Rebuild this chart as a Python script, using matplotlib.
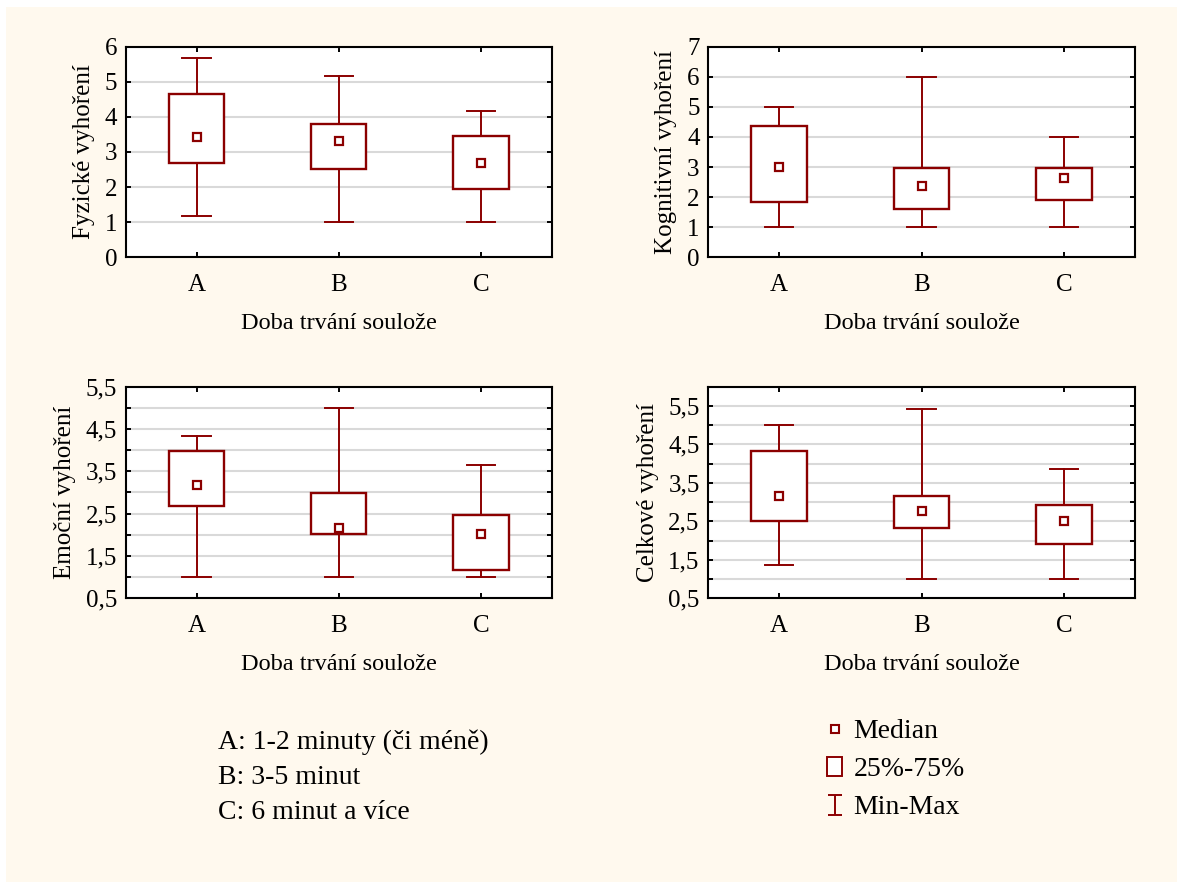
import matplotlib
matplotlib.use('Agg')
import matplotlib.pyplot as plt
from matplotlib.patches import Rectangle, Patch
from matplotlib.lines import Line2D
from matplotlib.path import Path
from matplotlib.ticker import FuncFormatter, MultipleLocator

plt.rcParams['font.family'] = ['Liberation Serif', 'DejaVu Serif']

groups = ['A', 'B', 'C']
xlabel = 'Doba trvání soulože'

# panel: label, min, q1, median, q3, max
fyz_label = 'Fyzické vyhoření'
fyz_min = [1.17, 1.0, 1.0]
fyz_q1 = [2.70, 2.52, 1.94]
fyz_med = [3.44, 3.32, 2.68]
fyz_q3 = [4.64, 3.81, 3.47]
fyz_max = [5.67, 5.16, 4.17]

kog_label = 'Kognitivní vyhoření'
kog_min = [1.0, 1.0, 1.0]
kog_q1 = [1.83, 1.61, 1.90]
kog_med = [3.0, 2.38, 2.62]
kog_q3 = [4.36, 2.97, 2.97]
kog_max = [5.0, 6.0, 4.0]

emo_label = 'Emoční vyhoření'
emo_min = [1.0, 1.0, 1.0]
emo_q1 = [2.67, 2.01, 1.17]
emo_med = [3.17, 2.15, 2.02]
emo_q3 = [3.98, 2.99, 2.47]
emo_max = [4.33, 5.0, 3.65]

cel_label = 'Celkové vyhoření'
cel_min = [1.36, 1.0, 1.0]
cel_q1 = [2.52, 2.32, 1.91]
cel_med = [3.15, 2.76, 2.52]
cel_q3 = [4.34, 3.17, 2.93]
cel_max = [5.0, 5.43, 3.86]

group_notes = ['A: 1-2 minuty (či méně)', 'B: 3-5 minut', 'C: 6 minut a více']
legend_labels = ['Median', '25%-75%', 'Min-Max']

red = '#8B0000'
cream = '#FFF9EE'
grid_c = '#D9D9D9'

fig = plt.figure(figsize=(11.77, 8.82), dpi=100, facecolor='white')
fig.patches.append(Rectangle((6 / 1177, 0), 1, 1 - 7 / 882, transform=fig.transFigure,
                             facecolor=cream, edgecolor='none', zorder=-10))

W, H = 1177, 882


def panel(rect_px, label, mins, q1, med, q3, maxs, ylim, major, minor, comma):
    l, t, r, b = rect_px
    ax = fig.add_axes([l / W, 1 - b / H, (r - l) / W, (b - t) / H])
    stats = []
    for i in range(len(groups)):
        stats.append({'med': med[i], 'mean': med[i], 'q1': q1[i], 'q3': q3[i],
                      'whislo': mins[i], 'whishi': maxs[i], 'fliers': []})
    ax.bxp(stats, positions=[1, 2, 3], widths=0.39, capwidths=0.2,
           patch_artist=True, showmeans=True,
           boxprops=dict(facecolor='white', edgecolor=red, linewidth=1.7),
           whiskerprops=dict(color=red, linewidth=1.4),
           capprops=dict(color=red, linewidth=1.4),
           medianprops=dict(linewidth=0),
           meanprops=dict(marker='s', markerfacecolor='white', markeredgecolor=red,
                          markersize=6, markeredgewidth=1.6),
           zorder=3)
    ax.set_xlim(0.5, 3.5)
    ax.set_ylim(*ylim)
    ax.set_xticks([1, 2, 3])
    ax.set_xticklabels(groups)
    ax.yaxis.set_major_locator(MultipleLocator(major))
    if minor:
        ax.yaxis.set_minor_locator(MultipleLocator(minor))
    if comma:
        ax.yaxis.set_major_formatter(FuncFormatter(lambda v, p: ('%.1f' % v).replace('.', ',')))
    ax.grid(True, axis='y', which='both', color=grid_c, linewidth=1.5, zorder=0)
    ax.set_axisbelow(True)
    ax.tick_params(which='both', direction='in', top=True, right=True,
                   length=3.5, width=1.4, labelsize=18, colors='black')
    ax.tick_params(axis='x', pad=12)
    ax.tick_params(axis='y', pad=6)
    for s in ax.spines.values():
        s.set_linewidth(1.5)
    ax.set_xlabel(xlabel, fontsize=17.5, labelpad=12)
    ax.set_ylabel(label, fontsize=18, labelpad=7)
    return ax


panel((125.5, 46.7, 552, 257.3), fyz_label, fyz_min, fyz_q1, fyz_med, fyz_q3, fyz_max,
      (0, 6), 1, None, False)
panel((708, 46.7, 1135, 257.3), kog_label, kog_min, kog_q1, kog_med, kog_q3, kog_max,
      (0, 7), 1, None, False)
ax3 = panel((125.5, 386.7, 552, 598.3), emo_label, emo_min, emo_q1, emo_med, emo_q3, emo_max,
            (0.5, 5.5), 1, 0.5, True)
ax4 = panel((708, 386.7, 1135, 598.3), cel_label, cel_min, cel_q1, cel_med, cel_q3, cel_max,
            (0.5, 6.0), 1, 0.5, True)
for a in (ax3, ax4):
    a.set_yticks([0.5, 1.5, 2.5, 3.5, 4.5, 5.5])

# group descriptions
for i, note in enumerate(group_notes):
    fig.text(218 / W, 1 - (749 + 35 * i) / H, note, fontsize=20, va='baseline', ha='left')

# legend
ipath = Path([(-0.7, -1), (0.7, -1), (0, -1), (0, 1), (-0.7, 1), (0.7, 1)],
             [Path.MOVETO, Path.LINETO, Path.MOVETO, Path.LINETO, Path.MOVETO, Path.LINETO])
handles = [Line2D([], [], ls='none', marker='s', markerfacecolor='white', markeredgecolor=red,
                  markersize=6, markeredgewidth=1.5),
           Patch(facecolor='white', edgecolor=red, linewidth=1.4),
           Line2D([], [], ls='none', marker=ipath, markeredgecolor=red, markersize=14,
                  markeredgewidth=1.4)]
fig.legend(handles, legend_labels, loc='upper left', bbox_to_anchor=(827 / W, 1 - 719 / H),
           frameon=False, fontsize=20, borderpad=0, borderaxespad=0, handlelength=0.55,
           handletextpad=0.4, labelspacing=0.45, handleheight=0.7)

fig.savefig('out.png', dpi=100, facecolor=fig.get_facecolor())
